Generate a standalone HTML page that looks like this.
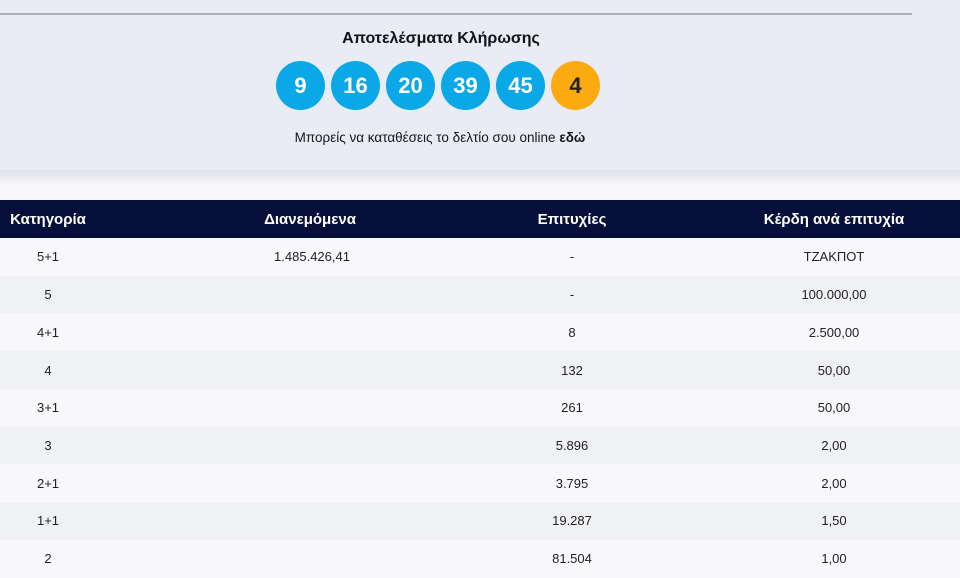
<!DOCTYPE html>
<html><head><meta charset="utf-8">
<style>
*{margin:0;padding:0;box-sizing:border-box}
html,body{width:960px;height:575px;overflow:hidden;background:#f8f8fb;font-family:"Liberation Sans","DejaVu Sans",sans-serif}
.box{position:absolute;left:0;top:0;width:960px;height:170px;background:#e9ecf4}
.shadow{position:absolute;left:0;top:170px;width:960px;height:14px;background:linear-gradient(#dcdee4,#f8f8fb)}
.line{position:absolute;left:0;top:13px;width:912px;height:2px;background:#abaeb7}
.title{position:absolute;left:241px;width:400px;top:30px;text-align:center;font-weight:bold;font-size:16px;color:#111116}
.ball{position:absolute;top:61px;width:49px;height:49px;border-radius:50%;background:#0aa8e6;color:#fff;font-weight:bold;font-size:22px;line-height:49px;text-align:center}
.ball.o{background:#fbaa10;color:#222}
.sub{position:absolute;left:240px;width:400px;top:130px;text-align:center;font-size:13.5px;color:#15151a}
.head{position:absolute;left:0;top:200px;width:960px;height:38px;background:#050f3a}
.h{position:absolute;top:211px;width:240px;text-align:center;color:#fff;font-weight:bold;font-size:15px}
.row{position:absolute;left:0;width:960px;height:38px}
.c{position:absolute;width:200px;text-align:center;font-size:13px;color:#222226}
</style></head><body>
<div class="box"></div>
<div class="shadow"></div>
<div class="line"></div>
<div class="title">Αποτελέσματα Κλήρωσης</div>
<div class="ball" style="left:276px">9</div>
<div class="ball" style="left:331px">16</div>
<div class="ball" style="left:386px">20</div>
<div class="ball" style="left:441px">39</div>
<div class="ball" style="left:496px">45</div>
<div class="ball o" style="left:551px">4</div>
<div class="sub">Μπορείς να καταθέσεις το δελτίο σου online <b>εδώ</b></div>

<div class="head"></div>
<div class="h" style="left:-72px">Κατηγορία</div>
<div class="h" style="left:190px">Διανεμόμενα</div>
<div class="h" style="left:452px">Επιτυχίες</div>
<div class="h" style="left:714px">Κέρδη ανά επιτυχία</div>

<div class="row" style="top:238px;background:#f8f8fa"></div>
<div class="row" style="top:276px;background:#f0f1f4"></div>
<div class="row" style="top:313px;background:#f8f8fa"></div>
<div class="row" style="top:351px;background:#f0f1f4"></div>
<div class="row" style="top:389px;background:#f8f8fa"></div>
<div class="row" style="top:427px;background:#f0f1f4"></div>
<div class="row" style="top:464px;background:#f8f8fa"></div>
<div class="row" style="top:502px;background:#f0f1f4"></div>
<div class="row" style="top:540px;background:#f8f8fa"></div>

<div class="c" style="left:-52px;top:249px">5+1</div>
<div class="c" style="left:212px;top:249px">1.485.426,41</div>
<div class="c" style="left:472px;top:249px">-</div>
<div class="c" style="left:734px;top:249px">ΤΖΑΚΠΟΤ</div>

<div class="c" style="left:-52px;top:287px">5</div>
<div class="c" style="left:472px;top:287px">-</div>
<div class="c" style="left:734px;top:287px">100.000,00</div>

<div class="c" style="left:-52px;top:325px">4+1</div>
<div class="c" style="left:472px;top:325px">8</div>
<div class="c" style="left:734px;top:325px">2.500,00</div>

<div class="c" style="left:-52px;top:363px">4</div>
<div class="c" style="left:472px;top:363px">132</div>
<div class="c" style="left:734px;top:363px">50,00</div>

<div class="c" style="left:-52px;top:400px">3+1</div>
<div class="c" style="left:472px;top:400px">261</div>
<div class="c" style="left:734px;top:400px">50,00</div>

<div class="c" style="left:-52px;top:438px">3</div>
<div class="c" style="left:472px;top:438px">5.896</div>
<div class="c" style="left:734px;top:438px">2,00</div>

<div class="c" style="left:-52px;top:476px">2+1</div>
<div class="c" style="left:472px;top:476px">3.795</div>
<div class="c" style="left:734px;top:476px">2,00</div>

<div class="c" style="left:-52px;top:513px">1+1</div>
<div class="c" style="left:472px;top:513px">19.287</div>
<div class="c" style="left:734px;top:513px">1,50</div>

<div class="c" style="left:-52px;top:551px">2</div>
<div class="c" style="left:472px;top:551px">81.504</div>
<div class="c" style="left:734px;top:551px">1,00</div>
</body></html>
